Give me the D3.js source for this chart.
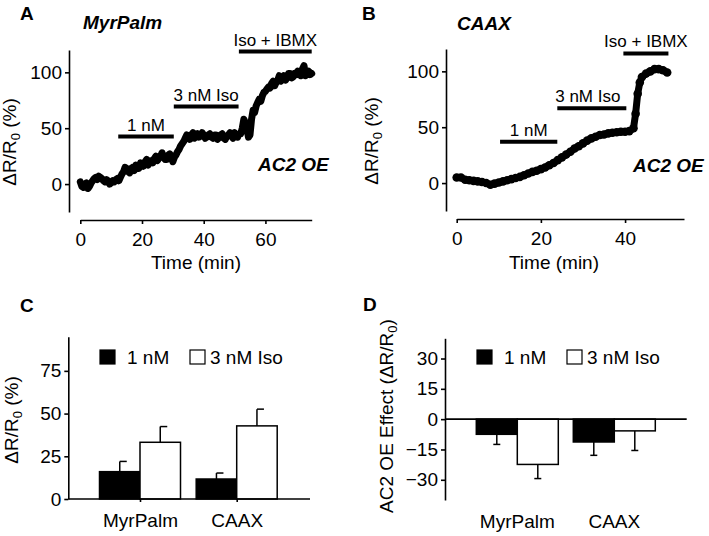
<!DOCTYPE html>
<html><head><meta charset="utf-8">
<script src="https://cdn.jsdelivr.net/npm/d3@7"></script>
<style>
body{margin:0;background:#fff}
svg{display:block}
text{font-family:"Liberation Sans",Arial,Helvetica,sans-serif;fill:#000}
</style>
</head><body>
<svg id="c" width="709" height="536"></svg>
<script>
// ---------- Panel A (MyrPalm) trace ----------
const timeA = [0,0.5,1,1.5,2,2.5,3,3.5,4,4.5,5,5.5,6,6.5,7,7.5,8,8.5,9,9.5,10,10.5,11,11.5,12,12.5,13,13.5,14,14.5,15,15.5,16,16.5,17,17.5,18,18.5,19,19.5,20,20.5,21,21.5,22,22.5,23,23.5,24,24.5,25,25.5,26,26.5,27,27.5,28,28.5,29,29.5,30,30.5,31,31.5,32,32.5,33,33.5,34,34.5,35,35.5,36,36.5,37,37.5,38,38.5,39,39.5,40,40.5,41,41.5,42,42.5,43,43.5,44,44.5,45,45.5,46,46.5,47,47.5,48,48.5,49,49.5,50,50.5,51,51.5,52,52.5,53,53.5,54,54.5,55,55.5,56,56.5,57,57.5,58,58.5,59,59.5,60,60.5,61,61.5,62,62.5,63,63.5,64,64.5,65,65.5,66,66.5,67,67.5,68,68.5,69,69.5,70,70.5,71,71.5,72,72.5,73,73.5,74,74.5,75];
const valuesA = [2,-2,-3,0,1,-4,-2,1,3,5,6,4,7,6,5,3,2,4,3,0,1,3,2,4,5,3,6,9,11,15,14,11,10,14,15,12,17,16,14,19,18,16,20,22,17,20,21,19,23,25,21,23,25,28,24,22,22,26,27,23,20,24,26,29,31,34,36,38,41,44,43,40,44,46,41,43,45,42,43,46,44,41,42,44,45,42,41,44,44,40,42,44,45,41,40,43,44,46,43,41,46,43,42,45,45,50,58,55,50,42,44,58,66,64,70,73,76,74,79,82,83,85,87,86,90,92,88,91,93,97,92,94,97,93,95,99,99,95,96,99,98,101,100,97,103,106,97,100,101,98,99];
// ---------- Panel B (CAAX) trace ----------
const timeB = [0,1,2,3,4,5,6,7,8,9,10,11,12,13,14,15,16,17,18,19,20,21,22,23,24,25,26,27,28,29,30,31,32,33,34,35,36,37,38,39,40,41,42,42.5,43,43.5,44,45,46,47,48,49,50];
const valuesB = [5,5,3,2.5,2,1.5,1,0,-1.5,-0.5,0.5,1.5,2.5,3.5,4.5,5.5,7,8.5,10,11,12.5,14,16,18,20.5,23,25.5,28,31,33,35.5,38,40,41.5,43,43.5,44.5,45,45.5,46,46,46.5,49,62,80,90,95,98,100,102,102,101,99];
// treatment bars: [start, end, label, level]
const treatA = [[12.3,30.3,"1 nM",42.5],[30.3,51.3,"3 nM Iso",69.4],[51.4,75,"Iso + IBMX",118.6]];
const treatB = [[10.3,23.9,"1 nM",37],[23.9,40.3,"3 nM Iso",67],[39.6,50.3,"Iso + IBMX",116]];
const ticksAy = [0,50,100];
const ticksAx = [0,20,40,60];
const ticksBx = [0,20,40];
// ---------- Panel C & D bars ----------
const groups = ["MyrPalm","CAAX"];
const seriesNames = ["1 nM","3 nM Iso"];
const c1nM = [16,11.7], c1nMErr = [6,3.5];
const c3nM = [33.2,42.8], c3nMErr = [9.2,9.8];
const d1nM = [-7.5,-11.3], d1nMErr = [5,6.6];
const d3nM = [-22.4,-5.8], d3nMErr = [7,9.7];
const ticksC = [0,25,50,75];
const ticksD = [-30,-15,0,15,30];

const svg = d3.select("#c");
const AX = 1.6;
const FS = 19;

function styleAxis(g){
  g.selectAll("path,line").attr("stroke","#000").attr("stroke-width",AX);
  g.selectAll("text").attr("font-size",FS).attr("fill","#000").attr("font-family",'"Liberation Sans",Arial,sans-serif');
}
function ylabel(x,y,main,sub,rest){
  const t = svg.append("text").attr("transform",`translate(${x},${y}) rotate(-90)`).attr("text-anchor","middle").attr("font-size",FS);
  t.append("tspan").text(main);
  t.append("tspan").attr("font-size",13).attr("dy",4).text(sub);
  t.append("tspan").attr("dy",-4).text(rest);
}
function panelLetter(x,y,l){ svg.append("text").attr("x",x).attr("y",y).attr("font-size",19).attr("font-weight","bold").text(l); }

// ===== Panel A =====
{
  const x = d3.scaleLinear().domain([0,75]).range([80.3,311.7]);
  const y = d3.scaleLinear().domain([-25,120]).range([212,50]);
  svg.append("g").attr("transform","translate(69,0)").call(d3.axisLeft(y).tickValues(ticksAy).tickSize(4).tickPadding(3).tickSizeOuter(0)).call(styleAxis);
  svg.append("g").attr("transform","translate(0,220)").call(d3.axisBottom(x).tickValues(ticksAx).tickSize(4).tickPadding(9).tickSizeOuter(0)).call(styleAxis);
  const pts = timeA.map((t,i)=>[t,valuesA[i]]);
  svg.append("path").datum(pts).attr("fill","none").attr("stroke","#000").attr("stroke-width",7).attr("stroke-linejoin","round").attr("stroke-linecap","round")
    .attr("d",d3.line().x(d=>x(d[0])).y(d=>y(d[1])));
  treatA.forEach(d=>{
    svg.append("line").attr("x1",x(d[0])).attr("x2",x(d[1])).attr("y1",y(d[3])).attr("y2",y(d[3])).attr("stroke","#000").attr("stroke-width",4);
    svg.append("text").attr("x",(x(d[0])+x(d[1]))/2).attr("y",y(d[3])-6).attr("text-anchor","middle").attr("font-size",17).text(d[2]);
  });
  svg.append("text").attr("x",196).attr("y",269).attr("text-anchor","middle").attr("font-size",FS).text("Time (min)");
  ylabel(16,142,"\u0394R/R","0"," (%)");
  panelLetter(20,20,"A");
  svg.append("text").attr("x",83).attr("y",29).attr("font-size",19).attr("font-weight","bold").attr("font-style","italic").text("MyrPalm");
  svg.append("text").attr("x",258).attr("y",171).attr("font-size",19).attr("font-weight","bold").attr("font-style","italic").text("AC2 OE");
}

// ===== Panel B =====
{
  const x = d3.scaleLinear().domain([0,54]).range([456.7,684]);
  const y = d3.scaleLinear().domain([-25,120]).range([211,49]);
  svg.append("g").attr("transform","translate(446,0)").call(d3.axisLeft(y).tickValues(ticksAy).tickSize(4).tickPadding(3).tickSizeOuter(0)).call(styleAxis);
  svg.append("g").attr("transform","translate(0,219)").call(d3.axisBottom(x).tickValues(ticksBx).tickSize(4).tickPadding(9).tickSizeOuter(0)).call(styleAxis);
  const pts = timeB.map((t,i)=>[t,valuesB[i]]);
  svg.append("path").datum(pts).attr("fill","none").attr("stroke","#000").attr("stroke-width",7).attr("stroke-linejoin","round").attr("stroke-linecap","round")
    .attr("d",d3.line().x(d=>x(d[0])).y(d=>y(d[1])));
  svg.append("g").selectAll("circle").data(pts).join("circle").attr("cx",d=>x(d[0])).attr("cy",d=>y(d[1])).attr("r",4.3).attr("fill","#000");
  treatB.forEach((d,i)=>{
    svg.append("line").attr("x1",x(d[0])).attr("x2",x(d[1])).attr("y1",y(d[3])).attr("y2",y(d[3])).attr("stroke","#000").attr("stroke-width",4);
    svg.append("text").attr("x",(x(d[0])+x(d[1]))/2 - (i===1?4:0)).attr("y",y(d[3])-6).attr("text-anchor","middle").attr("font-size",17).text(d[2]);
  });
  svg.append("text").attr("x",554).attr("y",269).attr("text-anchor","middle").attr("font-size",FS).text("Time (min)");
  ylabel(378,141,"\u0394R/R","0"," (%)");
  panelLetter(362,20,"B");
  svg.append("text").attr("x",457).attr("y",30).attr("font-size",19).attr("font-weight","bold").attr("font-style","italic").text("CAAX");
  svg.append("text").attr("x",633).attr("y",172).attr("font-size",19).attr("font-weight","bold").attr("font-style","italic").text("AC2 OE");
}

function legend(x0,y0,gap){
  svg.append("rect").attr("x",x0).attr("y",y0).attr("width",15).attr("height",14).attr("fill","#000").attr("stroke","#000").attr("stroke-width",1.2);
  svg.append("text").attr("x",x0+27).attr("y",y0+14).attr("font-size",FS).text(seriesNames[0]);
  svg.append("rect").attr("x",x0+gap).attr("y",y0).attr("width",15).attr("height",14).attr("fill","#fff").attr("stroke","#000").attr("stroke-width",1.2);
  svg.append("text").attr("x",x0+gap+20).attr("y",y0+14).attr("font-size",FS).text(seriesNames[1]);
}

// ===== Panel C =====
{
  const y = d3.scaleLinear().domain([0,95]).range([499,336.7]);
  const xg = d3.scalePoint().domain(groups).range([140,236.7]);
  const xs = d3.scaleBand().domain(seriesNames).range([-40.5,40.5]);
  svg.append("g").attr("transform","translate(68.3,0)").call(d3.axisLeft(y).tickValues(ticksC).tickSize(4).tickPadding(3).tickSizeOuter(0)).call(styleAxis);
  const data = [];
  groups.forEach((g,i)=>{
    data.push({g,s:seriesNames[0],v:c1nM[i],e:c1nMErr[i]});
    data.push({g,s:seriesNames[1],v:c3nM[i],e:c3nMErr[i]});
  });
  data.forEach(d=>{
    const cx = xg(d.g)+xs(d.s)+xs.bandwidth()/2;
    svg.append("line").attr("x1",cx).attr("x2",cx).attr("y1",y(d.v)).attr("y2",y(d.v+d.e)).attr("stroke","#000").attr("stroke-width",1.5);
    svg.append("line").attr("x1",cx).attr("x2",cx+7).attr("y1",y(d.v+d.e)).attr("y2",y(d.v+d.e)).attr("stroke","#000").attr("stroke-width",1.5);
    svg.append("rect").attr("x",xg(d.g)+xs(d.s)).attr("width",xs.bandwidth()).attr("y",y(d.v)).attr("height",y(0)-y(d.v))
      .attr("fill",d.s===seriesNames[0]?"#000":"#fff").attr("stroke","#000").attr("stroke-width",1.5);
  });
  svg.append("line").attr("x1",68.3).attr("x2",310).attr("y1",y(0)).attr("y2",y(0)).attr("stroke","#000").attr("stroke-width",AX);
  svg.append("g").attr("transform",`translate(0,${y(0)})`).call(d3.axisBottom(xg).tickSize(3).tickPadding(12).tickSizeOuter(0)).call(styleAxis)
    .call(g=>{g.select(".domain").remove();});
  ylabel(18,420,"\u0394R/R","0"," (%)");
  panelLetter(20,312,"C");
  legend(100,350,90);
}

// ===== Panel D =====
{
  const y = d3.scaleLinear().domain([-40,40]).range([500,338.3]);
  const xg = d3.scalePoint().domain(groups).range([517.3,614.3]);
  const xs = d3.scaleBand().domain(seriesNames).range([-41,41]);
  svg.append("g").attr("transform","translate(445,0)").call(d3.axisLeft(y).tickValues(ticksD).tickSize(4).tickPadding(3).tickSizeOuter(0)).call(styleAxis);
  const data = [];
  groups.forEach((g,i)=>{
    data.push({g,s:seriesNames[0],v:d1nM[i],e:d1nMErr[i]});
    data.push({g,s:seriesNames[1],v:d3nM[i],e:d3nMErr[i]});
  });
  data.forEach(d=>{
    const cx = xg(d.g)+xs(d.s)+xs.bandwidth()/2;
    svg.append("line").attr("x1",cx).attr("x2",cx).attr("y1",y(d.v)).attr("y2",y(d.v-d.e)).attr("stroke","#000").attr("stroke-width",1.5);
    svg.append("line").attr("x1",cx-3.5).attr("x2",cx+3.5).attr("y1",y(d.v-d.e)).attr("y2",y(d.v-d.e)).attr("stroke","#000").attr("stroke-width",1.5);
    svg.append("rect").attr("x",xg(d.g)+xs(d.s)).attr("width",xs.bandwidth()).attr("y",y(0)).attr("height",y(d.v)-y(0))
      .attr("fill",d.s===seriesNames[0]?"#000":"#fff").attr("stroke","#000").attr("stroke-width",1.5);
  });
  svg.append("line").attr("x1",445).attr("x2",686.7).attr("y1",y(0)).attr("y2",y(0)).attr("stroke","#000").attr("stroke-width",AX);
  groups.forEach(g=>{
    svg.append("text").attr("x",xg(g)).attr("y",528).attr("text-anchor","middle").attr("font-size",FS).text(g);
  });
  ylabel(393,416,"AC2 OE Effect (\u0394R/R","0",")");
  panelLetter(363,311,"D");
  legend(477,350,90);
}
</script>
</body></html>
